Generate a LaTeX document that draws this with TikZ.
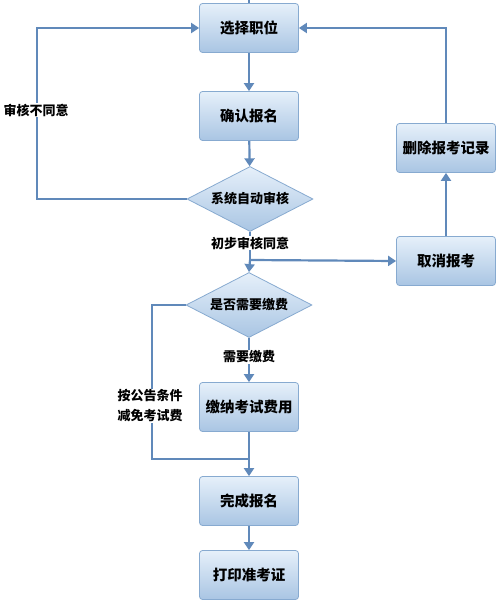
\documentclass[tikz,border=0pt]{standalone}
\usepackage{fontspec}
\setmainfont{Noto Sans CJK SC}
\usetikzlibrary{shapes.geometric,arrows.meta}
\definecolor{linecol}{HTML}{6089BA}
\definecolor{boxtop}{HTML}{E6F0FA}
\definecolor{boxbot}{HTML}{A9C5E3}
\definecolor{boxedge}{HTML}{87AAD0}
\tikzset{
	stepbox/.style={draw=boxedge, line width=.8pt, top color=boxtop, bottom color=boxbot, rounded corners=3pt, minimum width=99pt, minimum height=49pt, inner sep=0pt, font=\bfseries\fontsize{14.5}{15}\selectfont},
	choice/.style={diamond, aspect=2, draw=boxedge, line width=.8pt, top color=boxtop, bottom color=boxbot, minimum width=126pt, minimum height=65pt, inner sep=0pt, font=\bfseries\fontsize{13}{14}\selectfont},
	link/.style={draw=linecol, line width=2.2pt},
	flow/.style={link, -{Triangle[length=8pt,width=10pt]}},
	lbl/.style={fill=white, inner sep=1pt, font=\bfseries\fontsize{13}{20}\selectfont, align=center}
}

\begin{document}
\begin{tikzpicture}[x=1pt,y=-1pt]
	\useasboundingbox (0,0) rectangle (500,604);

	% main column
	\node[stepbox] (choose) at (249,28) {选择职位};
	\node[stepbox] (confirm) at (249,116) {确认报名};
	\node[choice] (audit) at (250,199) {系统自动审核};
	\node[choice] (fee) at (249,305) {是否需要缴费};
	\node[stepbox] (pay) at (249,407) {缴纳考试费用};
	\node[stepbox] (done) at (249,501) {完成报名};
	\node[stepbox] (print) at (249,575) {打印准考证};

	% right column
	\node[stepbox] (delete) at (446,148) {删除报考记录};
	\node[stepbox] (cancel) at (446,261) {取消报考};

	\coordinate (stub) at (249,0);
	\coordinate (loopL) at (37,28);
	\coordinate (split) at (250,260);
	\coordinate (loopB) at (152,459);
	\coordinate (merge) at (249,459);

	\draw[link] (stub) -- (choose.north);
	\draw[flow] (choose) -- (confirm);
	\draw[flow] (confirm) -- (audit);
	\draw[flow] (audit.west) -| (loopL) -- (choose.west);
	\draw[link] (audit.south) -- (split);
	\draw[flow] (split) -- (cancel.west);
	\draw[flow] (split) -- (fee.north);
	\draw[flow] (cancel) -- (delete);
	\draw[flow] (delete.north) |- (choose.east);
	\draw[flow] (fee) -- (pay);
	\draw[link] (fee.west) -| (loopB) -- (merge);
	\draw[link] (pay) -- (merge);
	\draw[flow] (merge) -- (done);
	\draw[flow] (done) -- (print);

	% labels
	\node[lbl] (nolbl) at (36,110) {审核不同意};
	\node[lbl] (oklbl) at (250,243) {初步审核同意};
	\node[lbl] (paylbl) at (249,357) {需要缴费};
	\node[lbl] (freelbl) at (150,406) {按公告条件\\减免考试费};
\end{tikzpicture}
\end{document}
